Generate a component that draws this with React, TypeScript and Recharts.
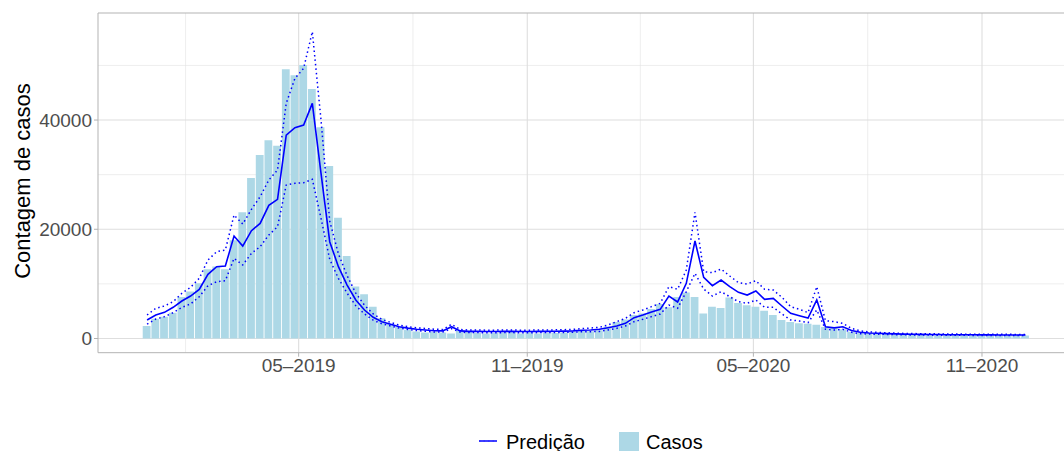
import React from 'react';
import {
  ComposedChart, Bar, Line, XAxis, YAxis, CartesianGrid, ReferenceLine,
} from 'recharts';

// semanas epidemiológicas, a partir de 30/12/2018
const inicio = Date.UTC(2018, 11, 30);
const DIA = 86400000;

const casos = [
  2300, 3600, 4000, 4700, 7600, 8600, 10100, 12700, 13200, 12700,
  18000, 23100, 29400, 33600, 36300, 35300, 49300, 48200, 50100, 45700,
  38700, 31600, 22100, 15100, 9500, 8100, 5800, 3700, 2700, 2100,
  1600, 1300, 1100, 1200, 1100, 900, 1400, 1200, 1000, 900,
  1000, 1100, 1200, 900, 1100, 900, 1000, 1000, 1100, 1200,
  1400, 1350, 1500, 2200, 3000, 3500, 4300, 4600, 5400, 6300,
  5700, 7600, 8400, 7600, 4600, 5800, 5600, 7500, 6500, 6100,
  5800, 5100, 4300, 3400, 3000, 2800, 2700, 2500, 2100, 2050,
  1700, 1250, 1000, 950, 900, 850, 750, 700, 650, 650,
  600, 600, 600, 600, 580, 580, 580, 560, 560, 560,
  560, 550,
];

const predicao = [
  3390, 4300, 4790, 5710, 6860, 7780, 9000, 11750, 13150, 13270,
  18760, 16930, 19740, 21080, 24380, 25480, 37250, 38600, 39080, 43050,
  30240, 17720, 13150, 9790, 7050, 5220, 3880, 3080, 2600, 2160,
  1900, 1680, 1560, 1430, 1400, 2160, 1400, 1300, 1300, 1280,
  1280, 1300, 1300, 1280, 1280, 1300, 1300, 1320, 1350, 1400,
  1500, 1550, 1700, 1980, 2290, 2780, 3810, 4300, 4850, 5340,
  7780, 6680, 10100, 17850, 11200, 9670, 10710, 9490, 8450, 7960,
  8700, 7170, 7350, 5950, 4610, 4180, 3750, 7050, 2160, 1950,
  2160, 1450, 1130, 1010, 950, 900, 850, 800, 780, 760,
  740, 720, 700, 700, 690, 680, 670, 660, 650, 650,
  640, 640,
];

const limSup = [
  4300, 5530, 5950, 6740, 8270, 9370, 11020, 14370, 15890, 16200,
  22610, 20960, 23650, 25960, 29020, 30850, 43050, 47630, 49460, 56170,
  40000, 21500, 15500, 11500, 8300, 6100, 4500, 3500, 2950, 2450,
  2150, 1950, 1850, 1700, 1650, 2600, 1650, 1550, 1550, 1530,
  1530, 1550, 1550, 1530, 1530, 1550, 1560, 1580, 1620, 1680,
  1800, 1920, 2050, 2470, 3080, 3690, 4730, 5220, 5830, 6440,
  9490, 9000, 12540, 23100, 12230, 12050, 12720, 11440, 10220, 9980,
  10590, 9000, 8880, 7540, 5830, 5340, 4730, 9490, 3260, 3080,
  2780, 1860, 1400, 1200, 1120, 1050, 990, 930, 900, 880,
  860, 840, 820, 810, 800, 790, 780, 770, 760, 760,
  750, 750,
];

const limInf = [
  2650, 3570, 4000, 4730, 5710, 6320, 7650, 9670, 10400, 10590,
  14680, 13460, 15590, 16810, 18950, 20470, 28100, 28410, 28520, 29140,
  22000, 14500, 11000, 8300, 6000, 4500, 3350, 2700, 2300, 1900,
  1650, 1450, 1330, 1200, 1170, 1800, 1170, 1080, 1080, 1060,
  1060, 1080, 1080, 1060, 1060, 1080, 1080, 1100, 1120, 1160,
  1250, 1250, 1300, 1560, 1860, 2290, 3080, 3510, 4000, 4490,
  6130, 5530, 8570, 11930, 9060, 7780, 8570, 7650, 6740, 6440,
  7050, 5710, 5710, 4490, 3390, 3200, 2900, 5220, 1680, 1560,
  1680, 1150, 880, 820, 780, 750, 710, 670, 650, 640,
  620, 600, 590, 590, 580, 570, 560, 550, 540, 540,
  530, 530,
];

const xTicks = [Date.UTC(2019, 4, 1), Date.UTC(2019, 10, 1), Date.UTC(2020, 4, 1), Date.UTC(2020, 10, 1)];
const xLabels = ['05–2019', '11–2019', '05–2020', '11–2020'];
const xMinor = [Date.UTC(2019, 0, 30), Date.UTC(2019, 7, 1), Date.UTC(2020, 0, 31), Date.UTC(2020, 7, 1)];
const yTicks = [0, 20000, 40000];
const yMinor = [10000, 30000, 50000];

const data = casos.map((c, i) => ({
  t: inicio + i * 7 * DIA,
  casos: c,
  predicao: predicao[i],
  limSup: limSup[i],
  limInf: limInf[i],
}));

const xDomain = [xTicks[0] - 161.5 * DIA, xTicks[0] + 616 * DIA];
const yDomain = [-2600, 59600];

const font = '"Liberation Sans", Arial, Helvetica, sans-serif';
const tickStyle = { fill: '#4d4d4d', fontSize: 19, fontFamily: font };

export default function App() {
  return (
    <div style={{ position: 'absolute', left: 0, top: 0, width: 1064, height: 451, background: '#fff', fontFamily: font }}>
      <ComposedChart width={1064} height={451} data={data} margin={{ top: 13, right: 0, bottom: 68.3, left: 0 }}>
        <CartesianGrid verticalValues={xMinor} horizontalValues={yMinor} stroke="#e3e3e3" strokeWidth={0.6} />
        <CartesianGrid verticalValues={xTicks} horizontalValues={yTicks} stroke="#dedede" strokeWidth={1.1} />
        <XAxis
          dataKey="t" type="number" domain={xDomain} allowDataOverflow ticks={xTicks}
          tickFormatter={(v: number) => xLabels[xTicks.indexOf(v)] ?? ''}
          height={30} tickSize={4} tick={tickStyle}
          stroke="#b3b3b3" axisLine={{ stroke: '#b3b3b3' }} tickLine={{ stroke: '#b3b3b3' }}
        />
        <YAxis
          type="number" domain={yDomain} allowDataOverflow ticks={yTicks}
          width={98} tickSize={4} tick={tickStyle}
          axisLine={{ stroke: '#b3b3b3' }} tickLine={{ stroke: '#b3b3b3' }}
        />
        <ReferenceLine y={yDomain[1]} stroke="#b3b3b3" ifOverflow="visible" />
        <Bar dataKey="casos" fill="#add8e6" barSize={7.8} isAnimationActive={false} />
        <Line type="linear" dataKey="limSup" stroke="#0000ff" strokeWidth={1.5} strokeDasharray="1.5 3" dot={false} isAnimationActive={false} />
        <Line type="linear" dataKey="limInf" stroke="#0000ff" strokeWidth={1.5} strokeDasharray="1.5 3" dot={false} isAnimationActive={false} />
        <Line type="linear" dataKey="predicao" stroke="#0000ff" strokeWidth={1.6} dot={false} isAnimationActive={false} />
      </ComposedChart>

      <div style={{
        position: 'absolute', left: 22.6 - 150, top: 181 - 13, width: 300, height: 26, lineHeight: '26px',
        textAlign: 'center', fontSize: 22, color: '#000', transform: 'rotate(-90deg)', whiteSpace: 'nowrap',
      }}>Contagem de casos</div>

      <svg style={{ position: 'absolute', left: 478, top: 436 }} width={20} height={10}>
        <line x1={1} y1={5} x2={19} y2={5} stroke="#0000ff" strokeWidth={1.5} />
        <line x1={1} y1={5} x2={19} y2={5} stroke="#3333ff" strokeWidth={2} strokeDasharray="1.5 3" />
      </svg>
      <div style={{ position: 'absolute', left: 506, top: 430, height: 24, lineHeight: '24px', fontSize: 20, color: '#000' }}>Predição</div>
      <div style={{ position: 'absolute', left: 619, top: 432, width: 20, height: 19, background: '#add8e6' }} />
      <div style={{ position: 'absolute', left: 646, top: 430, height: 24, lineHeight: '24px', fontSize: 20, color: '#000' }}>Casos</div>
    </div>
  );
}
